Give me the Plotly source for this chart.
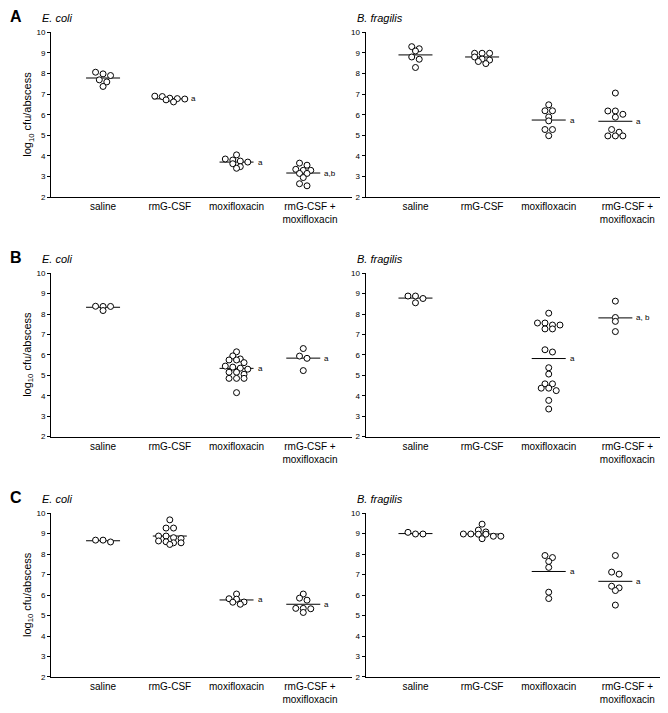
import numpy as np
import plotly.graph_objects as go

W, H = 668, 713
OFF = 8  # page body margin of the browser; reference pixels are shifted by this

categories = ["saline", "rmG-CSF", "moxifloxacin", "rmG-CSF +<br>moxifloxacin"]
y_ticks = [2, 3, 4, 5, 6, 7, 8, 9, 10]
panel_letters = ["A", "B", "C"]
species = ["E. coli", "B. fragilis"]

# ---------- Panel A ----------
a_ecoli_saline = [8.06, 7.98, 7.90, 7.69, 7.59, 7.37]
a_ecoli_rmg = [6.90, 6.88, 6.80, 6.78, 6.76, 6.72, 6.62]
a_ecoli_moxi = [4.05, 3.85, 3.80, 3.75, 3.70, 3.62, 3.48, 3.40]
a_ecoli_combo = [3.65, 3.55, 3.35, 3.30, 3.30, 3.15, 3.15, 2.95, 2.65, 2.55]
a_ecoli_median = [7.78, 6.77, 3.70, 3.17]
a_ecoli_sig = ["", "a", "a", "a,b"]

a_bfrag_saline = [9.30, 9.20, 9.09, 8.80, 8.69, 8.29]
a_bfrag_rmg = [8.98, 8.98, 8.98, 8.80, 8.70, 8.65, 8.58, 8.48]
a_bfrag_moxi = [6.48, 6.19, 6.19, 5.89, 5.70, 5.28, 5.28, 4.98]
a_bfrag_combo = [7.05, 6.18, 6.18, 6.02, 5.88, 5.28, 5.15, 4.97, 4.97, 4.97]
a_bfrag_median = [8.90, 8.80, 5.74, 5.68]
a_bfrag_sig = ["", "", "a", "a"]

# ---------- Panel B ----------
b_ecoli_saline = [8.38, 8.37, 8.37, 8.17]
b_ecoli_rmg = []
b_ecoli_moxi = [6.15, 5.95, 5.80, 5.75, 5.75, 5.62, 5.45, 5.40, 5.35, 5.30,
                5.15, 5.15, 5.05, 4.85, 4.85, 4.85, 4.15]
b_ecoli_combo = [6.31, 5.94, 5.83, 5.23]
b_ecoli_median = [8.33, None, 5.34, 5.84]
b_ecoli_sig = ["", "", "a", "a"]

b_bfrag_saline = [8.88, 8.88, 8.76, 8.55]
b_bfrag_rmg = []
b_bfrag_moxi = [8.04, 7.56, 7.56, 7.46, 7.46, 7.27, 7.27, 6.25, 6.14, 5.37,
                5.06, 4.58, 4.58, 4.37, 4.37, 4.25, 3.77, 3.35]
b_bfrag_combo = [8.63, 7.83, 7.64, 7.14]
b_bfrag_median = [8.78, None, 5.82, 7.81]
b_bfrag_sig = ["", "", "a", "a, b"]

# ---------- Panel C ----------
c_ecoli_saline = [8.68, 8.68, 8.59]
c_ecoli_rmg = [9.67, 9.27, 9.27, 8.88, 8.88, 8.80, 8.76, 8.64, 8.60, 8.55, 8.55, 8.47]
c_ecoli_moxi = [6.05, 5.82, 5.80, 5.66, 5.65, 5.55]
c_ecoli_combo = [6.05, 5.85, 5.75, 5.35, 5.35, 5.33, 5.15]
c_ecoli_median = [8.65, 8.88, 5.76, 5.55]
c_ecoli_sig = ["", "", "a", "a"]

c_bfrag_saline = [9.06, 8.98, 8.98]
c_bfrag_rmg = [9.46, 9.17, 9.08, 8.98, 8.98, 8.97, 8.97, 8.87, 8.87, 8.75]
c_bfrag_moxi = [7.93, 7.83, 7.64, 7.35, 6.14, 5.83]
c_bfrag_combo = [7.93, 7.12, 7.02, 6.43, 6.35, 6.22, 5.51]
c_bfrag_median = [9.00, 8.98, 7.15, 6.67]
c_bfrag_sig = ["", "", "a", "a"]

panels = [
    [[a_ecoli_saline, a_ecoli_rmg, a_ecoli_moxi, a_ecoli_combo], a_ecoli_median, a_ecoli_sig],
    [[a_bfrag_saline, a_bfrag_rmg, a_bfrag_moxi, a_bfrag_combo], a_bfrag_median, a_bfrag_sig],
    [[b_ecoli_saline, b_ecoli_rmg, b_ecoli_moxi, b_ecoli_combo], b_ecoli_median, b_ecoli_sig],
    [[b_bfrag_saline, b_bfrag_rmg, b_bfrag_moxi, b_bfrag_combo], b_bfrag_median, b_bfrag_sig],
    [[c_ecoli_saline, c_ecoli_rmg, c_ecoli_moxi, c_ecoli_combo], c_ecoli_median, c_ecoli_sig],
    [[c_bfrag_saline, c_bfrag_rmg, c_bfrag_moxi, c_bfrag_combo], c_bfrag_median, c_bfrag_sig],
]

# ---------- layout geometry (screen pixels) ----------
row_px = [(28.5, 195.5), (272.5, 438.0), (515.5, 681.5)]   # top, bottom
col_px = [(51.0, 352.0), (365.5, 662.0)]                     # left, right
col_range = [(-0.78, 3.73), (-0.75, 3.70)]
label_pos = [[0, 1, 2, 3.1], [0, 1, 2, 3.18]]
Y_RANGE = (2, 10)
DX = 7.5          # px, horizontal spacing of dots within a row
ROW_H = 3.5       # px, dots closer than this vertically share a row
HALF_LINE = 17.0  # px, half width of median bar

FONT = "Arial, Liberation Sans, sans-serif"


def px_x(p):
    return (p - OFF) / W


def px_y(p):
    return 1 - (p - OFF) / H


def row_swarm(values, px_per_x, px_per_y):
    vals = np.asarray(values, dtype=float)
    order = np.argsort(-vals, kind="stable")
    offs = np.zeros(len(vals))
    rows, cur, start = [], [], None
    for i in order:
        if cur and (start - vals[i]) * px_per_y >= ROW_H:
            rows.append(cur)
            cur = []
        if not cur:
            start = vals[i]
        cur.append(i)
    if cur:
        rows.append(cur)
    for row in rows:
        n = len(row)
        for j, i in enumerate(row):
            offs[i] = (j - (n - 1) / 2) * DX / px_per_x
    return offs


fig = go.Figure()
annotations = []
layout_axes = {}

for k, (groups, medians, sigs) in enumerate(panels):
    r, c = divmod(k, 2)
    idx = k + 1
    xa = "x" if idx == 1 else f"x{idx}"
    ya = "y" if idx == 1 else f"y{idx}"
    xl = "xaxis" if idx == 1 else f"xaxis{idx}"
    yl = "yaxis" if idx == 1 else f"yaxis{idx}"
    top, bot = row_px[r]
    left, right = col_px[c]
    x0, x1 = col_range[c]
    px_per_x = (right - left) / (x1 - x0)
    px_per_y = (bot - top) / (Y_RANGE[1] - Y_RANGE[0])
    half = HALF_LINE / px_per_x

    layout_axes[xl] = dict(
        domain=[px_x(left), px_x(right)], range=[x0, x1], anchor=ya,
        tickmode="array", tickvals=label_pos[c], ticktext=categories,
        showline=True, linecolor="black", linewidth=1, ticks="",
        showgrid=False, zeroline=False, fixedrange=True,
        tickfont=dict(family=FONT, size=10, color="black"),
    )
    layout_axes[yl] = dict(
        domain=[px_y(bot), px_y(top)], range=list(Y_RANGE), anchor=xa,
        tickmode="array", tickvals=y_ticks,
        showline=True, linecolor="black", linewidth=1,
        ticks="outside", ticklen=3, tickwidth=1, tickcolor="black",
        showgrid=False, zeroline=False, fixedrange=True,
        tickfont=dict(family=FONT, size=8, color="black"),
    )

    for gi, vals in enumerate(groups):
        med = medians[gi]
        if med is not None:
            fig.add_trace(go.Scatter(
                x=[gi - half, gi + half], y=[med, med], mode="lines",
                line=dict(color="black", width=1), xaxis=xa, yaxis=ya,
                showlegend=False, hoverinfo="skip"))
            if sigs[gi]:
                annotations.append(dict(
                    x=gi + half, y=med, xref=xa, yref=ya, text=sigs[gi],
                    showarrow=False, xanchor="left", yanchor="middle", xshift=2,
                    font=dict(family=FONT, size=8, color="black")))
        if len(vals):
            offs = row_swarm(vals, px_per_x, px_per_y)
            fig.add_trace(go.Scatter(
                x=gi + offs, y=vals, mode="markers",
                marker=dict(symbol="circle", size=6, color="white",
                            line=dict(color="black", width=1)),
                xaxis=xa, yaxis=ya, showlegend=False))

    # species label
    annotations.append(dict(
        x=px_x(left - 11), y=px_y(top - 14), xref="paper", yref="paper",
        text=f"<i>{species[c]}</i>", showarrow=False, xanchor="left",
        yanchor="middle", font=dict(family=FONT, size=11, color="black")))

    if c == 0:
        annotations.append(dict(
            x=0, y=px_y(top - 15.5), xref="paper", yref="paper",
            text=f"<b>{panel_letters[r]}</b>", showarrow=False,
            xanchor="left", yanchor="middle",
            font=dict(family=FONT, size=16, color="black")))
        annotations.append(dict(
            x=px_x(28), y=px_y((top + bot) / 2), xref="paper", yref="paper",
            text="log<sub>10</sub> cfu/abscess", textangle=-90, showarrow=False,
            xanchor="center", yanchor="middle",
            font=dict(family=FONT, size=11, color="black")))

fig.update_layout(
    width=W, height=H, margin=dict(l=0, r=0, t=0, b=0),
    paper_bgcolor="white", plot_bgcolor="white",
    annotations=annotations, showlegend=False,
    **layout_axes,
)

fig.write_html("out.html")
